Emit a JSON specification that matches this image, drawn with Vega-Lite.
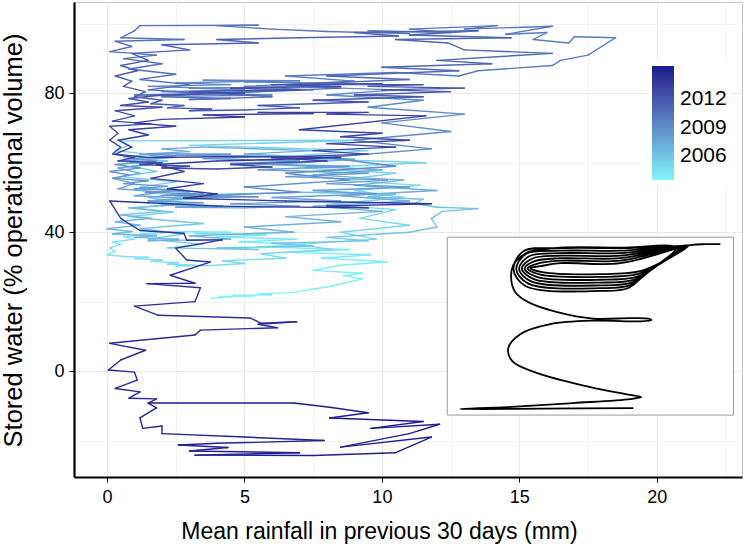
{
"$schema":"https://vega.github.io/schema/vega-lite/v6.json",
"width":668,"height":475,
"autosize":{"type":"none"},
"padding":{"left":74,"top":2,"right":3,"bottom":72},
"config":{"font":"Liberation Sans","view":{"stroke":"#c4c4c4","strokeWidth":1}},
"datasets":{
"main":[
{"t":2003.600,"x":3.8,"y":21.0},{"t":2003.625,"x":4.5,"y":21.3},{"t":2003.650,"x":4.1,"y":21.5},{"t":2003.675,"x":5.3,"y":21.6},{"t":2003.700,"x":4.6,"y":21.8},{"t":2003.725,"x":6.0,"y":22.0},{"t":2003.750,"x":5.5,"y":22.3},{"t":2003.775,"x":6.7,"y":22.6},{"t":2003.800,"x":7.4,"y":23.5},{"t":2003.825,"x":8.2,"y":24.5},{"t":2003.850,"x":9.3,"y":26.6},{"t":2003.875,"x":8.6,"y":27.5},{"t":2003.900,"x":9.3,"y":28.2},{"t":2003.925,"x":7.5,"y":29.0},{"t":2003.950,"x":8.5,"y":30.5},{"t":2003.975,"x":10.2,"y":31.5},{"t":2004.000,"x":7.8,"y":32.5},{"t":2004.025,"x":9.6,"y":33.5},{"t":2004.050,"x":6.5,"y":34.2},{"t":2004.075,"x":8.8,"y":35.0},{"t":2004.100,"x":5.5,"y":35.8},{"t":2004.125,"x":7.2,"y":36.5},{"t":2004.150,"x":4.8,"y":37.2},{"t":2004.175,"x":6.9,"y":38.0},{"t":2004.200,"x":4.0,"y":38.6},{"t":2004.225,"x":5.8,"y":39.2},{"t":2004.250,"x":3.2,"y":39.7},{"t":2004.275,"x":4.5,"y":40.0},{"t":2004.300,"x":2.5,"y":40.2},
{"t":2004.325,"x":2.0,"y":39.8},{"t":2004.350,"x":1.2,"y":39.5},{"t":2004.375,"x":1.8,"y":39.2},{"t":2004.400,"x":0.6,"y":38.8},{"t":2004.425,"x":1.0,"y":38.0},{"t":2004.450,"x":0.2,"y":37.2},{"t":2004.475,"x":0.5,"y":36.5},{"t":2004.500,"x":0.1,"y":35.5},{"t":2004.525,"x":0.3,"y":34.5},{"t":2004.550,"x":0.0,"y":33.5},{"t":2004.575,"x":0.6,"y":33.0},{"t":2004.600,"x":1.5,"y":32.8},{"t":2004.625,"x":1.0,"y":32.4},{"t":2004.650,"x":2.0,"y":32.0},{"t":2004.675,"x":1.6,"y":31.6},{"t":2004.700,"x":2.6,"y":31.2},{"t":2004.725,"x":2.2,"y":30.8},{"t":2004.750,"x":3.2,"y":30.5},{"t":2004.775,"x":2.5,"y":30.3},{"t":2004.800,"x":3.8,"y":30.4},
{"t":2004.825,"x":5.0,"y":31.0},{"t":2004.850,"x":4.2,"y":31.8},{"t":2004.875,"x":6.5,"y":32.5},{"t":2004.900,"x":5.6,"y":33.8},{"t":2004.925,"x":8.2,"y":35.0},{"t":2004.950,"x":7.0,"y":36.5},{"t":2004.975,"x":9.8,"y":38.0},{"t":2005.000,"x":8.5,"y":40.0},{"t":2005.025,"x":11.0,"y":42.0},{"t":2005.050,"x":9.2,"y":44.0},{"t":2005.075,"x":10.5,"y":46.5},{"t":2005.100,"x":8.0,"y":48.0},{"t":2005.125,"x":10.8,"y":50.0},{"t":2005.150,"x":9.0,"y":52.0},{"t":2005.175,"x":11.4,"y":53.5},{"t":2005.200,"x":8.5,"y":55.0},{"t":2005.225,"x":10.5,"y":57.0},{"t":2005.250,"x":7.2,"y":58.5},{"t":2005.275,"x":11.6,"y":60.0},{"t":2005.300,"x":6.0,"y":61.5},{"t":2005.325,"x":9.5,"y":63.5},{"t":2005.350,"x":3.0,"y":65.0},{"t":2005.375,"x":9.2,"y":66.5},{"t":2005.400,"x":0.5,"y":66.3},
{"t":2005.425,"x":0.8,"y":65.0},{"t":2005.450,"x":0.3,"y":63.5},{"t":2005.475,"x":1.5,"y":62.5},{"t":2005.500,"x":0.6,"y":61.5},{"t":2005.525,"x":2.2,"y":60.5},{"t":2005.550,"x":0.9,"y":59.0},{"t":2005.575,"x":1.8,"y":57.5},{"t":2005.600,"x":0.5,"y":56.0},{"t":2005.625,"x":2.5,"y":54.5},{"t":2005.650,"x":1.2,"y":53.0},{"t":2005.675,"x":3.0,"y":51.5},{"t":2005.700,"x":1.5,"y":50.0},{"t":2005.725,"x":2.8,"y":48.5},{"t":2005.750,"x":1.0,"y":47.0},{"t":2005.775,"x":2.4,"y":45.8},{"t":2005.800,"x":0.8,"y":44.5},{"t":2005.825,"x":2.0,"y":43.5},{"t":2005.850,"x":3.5,"y":42.5},{"t":2005.875,"x":1.2,"y":41.0},{"t":2005.900,"x":2.8,"y":39.5},{"t":2005.925,"x":1.5,"y":38.0},{"t":2005.950,"x":3.5,"y":36.5},{"t":2005.975,"x":2.2,"y":35.5},
{"t":2006.000,"x":5.5,"y":35.0},{"t":2006.025,"x":4.0,"y":35.5},{"t":2006.050,"x":7.5,"y":36.0},{"t":2006.075,"x":6.0,"y":36.8},{"t":2006.100,"x":9.5,"y":37.5},{"t":2006.125,"x":8.0,"y":38.5},{"t":2006.150,"x":11.0,"y":40.0},{"t":2006.175,"x":12.0,"y":41.5},{"t":2006.200,"x":11.8,"y":44.0},{"t":2006.225,"x":12.2,"y":46.0},{"t":2006.250,"x":13.5,"y":46.8},{"t":2006.275,"x":12.0,"y":47.2},{"t":2006.300,"x":11.2,"y":48.2},{"t":2006.325,"x":11.5,"y":49.5},{"t":2006.350,"x":9.5,"y":50.2},{"t":2006.375,"x":10.5,"y":51.0},{"t":2006.400,"x":7.0,"y":51.5},
{"t":2006.425,"x":4.5,"y":51.0},{"t":2006.450,"x":2.5,"y":50.5},{"t":2006.475,"x":3.8,"y":49.8},{"t":2006.500,"x":1.5,"y":49.0},{"t":2006.525,"x":2.8,"y":48.0},{"t":2006.550,"x":0.8,"y":47.0},{"t":2006.575,"x":2.0,"y":46.0},{"t":2006.600,"x":0.5,"y":45.0},{"t":2006.625,"x":1.6,"y":44.0},{"t":2006.650,"x":0.3,"y":43.0},{"t":2006.675,"x":1.2,"y":42.0},{"t":2006.700,"x":0.0,"y":41.0},{"t":2006.725,"x":0.9,"y":40.2},{"t":2006.750,"x":0.2,"y":39.5},{"t":2006.775,"x":1.8,"y":39.0},{"t":2006.800,"x":1.0,"y":38.5},{"t":2006.825,"x":2.6,"y":38.0},{"t":2006.850,"x":1.5,"y":37.5},
{"t":2006.875,"x":4.5,"y":38.0},{"t":2006.900,"x":3.0,"y":39.0},{"t":2006.925,"x":6.8,"y":40.0},{"t":2006.950,"x":5.0,"y":41.5},{"t":2006.975,"x":8.5,"y":43.0},{"t":2007.000,"x":6.5,"y":44.5},{"t":2007.025,"x":10.0,"y":46.0},{"t":2007.050,"x":7.5,"y":47.5},{"t":2007.075,"x":11.0,"y":49.0},{"t":2007.100,"x":8.5,"y":50.5},{"t":2007.125,"x":12.0,"y":52.0},{"t":2007.150,"x":9.0,"y":53.5},{"t":2007.175,"x":10.8,"y":55.0},{"t":2007.200,"x":7.5,"y":56.5},{"t":2007.225,"x":10.0,"y":58.0},{"t":2007.250,"x":6.0,"y":59.5},{"t":2007.275,"x":9.0,"y":61.0},{"t":2007.300,"x":5.0,"y":62.5},{"t":2007.325,"x":7.5,"y":63.5},{"t":2007.350,"x":3.5,"y":64.5},
{"t":2007.375,"x":2.0,"y":64.0},{"t":2007.400,"x":3.0,"y":63.2},{"t":2007.425,"x":1.2,"y":62.5},{"t":2007.450,"x":2.4,"y":61.5},{"t":2007.475,"x":0.6,"y":60.5},{"t":2007.500,"x":1.6,"y":59.5},{"t":2007.525,"x":0.4,"y":58.5},{"t":2007.550,"x":1.2,"y":57.0},{"t":2007.575,"x":0.2,"y":55.5},{"t":2007.600,"x":1.0,"y":54.0},{"t":2007.625,"x":0.4,"y":52.5},{"t":2007.650,"x":2.0,"y":51.5},{"t":2007.675,"x":1.0,"y":50.5},{"t":2007.700,"x":2.8,"y":49.8},{"t":2007.725,"x":1.5,"y":49.0},{"t":2007.750,"x":3.5,"y":48.5},{"t":2007.775,"x":2.0,"y":48.0},{"t":2007.800,"x":4.2,"y":47.6},{"t":2007.825,"x":2.5,"y":47.2},{"t":2007.850,"x":5.0,"y":47.0},
{"t":2007.875,"x":7.0,"y":47.5},{"t":2007.900,"x":4.5,"y":48.2},{"t":2007.925,"x":8.5,"y":49.0},{"t":2007.950,"x":6.0,"y":50.0},{"t":2007.975,"x":9.8,"y":51.0},{"t":2008.000,"x":7.5,"y":52.0},{"t":2008.025,"x":11.0,"y":53.0},{"t":2008.050,"x":8.0,"y":54.0},{"t":2008.075,"x":10.2,"y":55.0},{"t":2008.100,"x":6.5,"y":56.0},{"t":2008.125,"x":9.5,"y":57.0},{"t":2008.150,"x":5.5,"y":58.0},{"t":2008.175,"x":8.8,"y":59.0},{"t":2008.200,"x":4.5,"y":59.8},{"t":2008.225,"x":7.0,"y":60.5},{"t":2008.250,"x":3.5,"y":61.2},{"t":2008.275,"x":6.0,"y":61.8},{"t":2008.300,"x":2.5,"y":62.2},{"t":2008.325,"x":4.5,"y":62.5},{"t":2008.350,"x":1.5,"y":62.6},
{"t":2008.375,"x":2.5,"y":62.0},{"t":2008.400,"x":0.8,"y":61.2},{"t":2008.425,"x":1.8,"y":60.5},{"t":2008.450,"x":0.3,"y":59.5},{"t":2008.475,"x":1.2,"y":58.5},{"t":2008.500,"x":0.1,"y":57.5},{"t":2008.525,"x":0.8,"y":56.5},{"t":2008.550,"x":0.2,"y":55.5},{"t":2008.575,"x":1.5,"y":54.8},{"t":2008.600,"x":0.6,"y":54.0},{"t":2008.625,"x":2.2,"y":53.2},{"t":2008.650,"x":1.0,"y":52.5},{"t":2008.675,"x":2.8,"y":52.0},{"t":2008.700,"x":1.4,"y":51.5},{"t":2008.725,"x":3.5,"y":51.0},{"t":2008.750,"x":2.0,"y":50.6},{"t":2008.775,"x":4.5,"y":50.3},{"t":2008.800,"x":2.8,"y":50.0},{"t":2008.825,"x":5.5,"y":50.2},{"t":2008.850,"x":3.5,"y":50.5},
{"t":2008.875,"x":7.0,"y":51.5},{"t":2008.900,"x":5.0,"y":53.0},{"t":2008.925,"x":8.8,"y":55.0},{"t":2008.950,"x":6.5,"y":57.0},{"t":2008.975,"x":10.5,"y":59.0},{"t":2009.000,"x":8.0,"y":61.5},{"t":2009.025,"x":11.8,"y":64.0},{"t":2009.050,"x":9.0,"y":66.5},{"t":2009.075,"x":12.5,"y":69.0},{"t":2009.100,"x":10.0,"y":71.5},{"t":2009.125,"x":13.0,"y":74.0},{"t":2009.150,"x":9.5,"y":76.0},{"t":2009.175,"x":11.5,"y":78.0},{"t":2009.200,"x":8.0,"y":79.5},{"t":2009.225,"x":10.5,"y":81.0},{"t":2009.250,"x":6.5,"y":82.0},{"t":2009.275,"x":9.0,"y":82.8},{"t":2009.300,"x":5.0,"y":83.3},{"t":2009.325,"x":7.0,"y":83.6},{"t":2009.350,"x":3.5,"y":83.8},
{"t":2009.375,"x":5.5,"y":83.5},{"t":2009.400,"x":2.5,"y":83.0},{"t":2009.425,"x":4.5,"y":82.5},{"t":2009.450,"x":1.5,"y":82.0},{"t":2009.475,"x":3.5,"y":81.5},{"t":2009.500,"x":6.5,"y":81.8},{"t":2009.525,"x":3.0,"y":81.5},{"t":2009.550,"x":5.0,"y":81.0},{"t":2009.575,"x":2.0,"y":80.5},{"t":2009.600,"x":4.0,"y":80.0},{"t":2009.625,"x":1.0,"y":79.5},{"t":2009.650,"x":3.0,"y":79.2},{"t":2009.675,"x":6.0,"y":79.5},{"t":2009.700,"x":3.5,"y":80.0},{"t":2009.725,"x":7.5,"y":81.0},{"t":2009.750,"x":5.0,"y":82.0},{"t":2009.775,"x":9.0,"y":83.5},{"t":2009.800,"x":6.5,"y":85.0},
{"t":2009.825,"x":10.5,"y":86.0},{"t":2009.850,"x":12.8,"y":85.0},{"t":2009.875,"x":13.5,"y":86.5},{"t":2009.900,"x":16.2,"y":88.0},{"t":2009.925,"x":16.5,"y":89.5},{"t":2009.950,"x":17.5,"y":91.0},{"t":2009.975,"x":18.5,"y":96.0},{"t":2010.000,"x":17.0,"y":96.3},{"t":2010.025,"x":16.8,"y":94.5},{"t":2010.050,"x":15.5,"y":95.5},{"t":2010.075,"x":16.0,"y":97.5},{"t":2010.100,"x":14.5,"y":97.0},{"t":2010.125,"x":16.2,"y":99.3},{"t":2010.150,"x":13.0,"y":98.5},{"t":2010.175,"x":14.2,"y":99.5},{"t":2010.200,"x":11.0,"y":98.5},{"t":2010.225,"x":12.5,"y":97.5},{"t":2010.250,"x":9.5,"y":98.0},{"t":2010.275,"x":11.0,"y":97.2},{"t":2010.300,"x":8.0,"y":97.8},
{"t":2010.325,"x":6.0,"y":98.5},{"t":2010.350,"x":4.0,"y":99.5},{"t":2010.375,"x":5.5,"y":99.6},{"t":2010.400,"x":1.2,"y":99.5},{"t":2010.425,"x":1.0,"y":98.0},{"t":2010.450,"x":0.5,"y":96.0},{"t":2010.475,"x":2.8,"y":95.5},{"t":2010.500,"x":0.3,"y":95.0},{"t":2010.525,"x":0.9,"y":93.5},{"t":2010.550,"x":0.1,"y":92.0},{"t":2010.575,"x":1.8,"y":91.0},{"t":2010.600,"x":0.6,"y":90.0},{"t":2010.625,"x":2.0,"y":88.5},{"t":2010.650,"x":0.8,"y":87.0},{"t":2010.675,"x":2.5,"y":85.5},{"t":2010.700,"x":1.2,"y":84.0},{"t":2010.725,"x":3.0,"y":82.5},{"t":2010.750,"x":1.5,"y":81.0},{"t":2010.775,"x":3.5,"y":80.0},{"t":2010.800,"x":2.0,"y":79.0},{"t":2010.825,"x":4.5,"y":78.5},{"t":2010.850,"x":3.0,"y":78.2},
{"t":2010.875,"x":6.0,"y":79.0},{"t":2010.900,"x":4.0,"y":80.0},{"t":2010.925,"x":8.5,"y":81.5},{"t":2010.950,"x":6.5,"y":82.5},{"t":2010.975,"x":11.0,"y":84.0},{"t":2011.000,"x":8.0,"y":85.0},{"t":2011.025,"x":12.8,"y":86.5},{"t":2011.050,"x":10.0,"y":87.5},{"t":2011.075,"x":14.0,"y":88.5},{"t":2011.100,"x":12.0,"y":89.5},{"t":2011.125,"x":16.2,"y":91.5},{"t":2011.150,"x":13.0,"y":92.5},{"t":2011.175,"x":12.4,"y":94.5},{"t":2011.200,"x":10.5,"y":95.5},{"t":2011.225,"x":14.7,"y":96.0},{"t":2011.250,"x":11.0,"y":96.8},{"t":2011.275,"x":13.5,"y":98.0},{"t":2011.300,"x":9.0,"y":97.5},{"t":2011.325,"x":10.6,"y":96.5},{"t":2011.350,"x":7.0,"y":96.0},
{"t":2011.375,"x":4.0,"y":95.5},{"t":2011.400,"x":5.5,"y":94.5},{"t":2011.425,"x":2.0,"y":94.0},{"t":2011.450,"x":3.0,"y":92.5},{"t":2011.475,"x":0.9,"y":91.5},{"t":2011.500,"x":1.5,"y":89.5},{"t":2011.525,"x":0.5,"y":88.0},{"t":2011.550,"x":1.1,"y":86.5},{"t":2011.575,"x":0.3,"y":85.0},{"t":2011.600,"x":0.9,"y":83.5},{"t":2011.625,"x":0.6,"y":82.0},{"t":2011.650,"x":1.4,"y":80.5},{"t":2011.675,"x":1.0,"y":79.0},{"t":2011.700,"x":2.0,"y":78.0},{"t":2011.725,"x":1.6,"y":77.0},{"t":2011.750,"x":2.8,"y":76.5},{"t":2011.775,"x":2.2,"y":75.8},{"t":2011.800,"x":3.8,"y":75.5},{"t":2011.825,"x":3.0,"y":75.0},{"t":2011.850,"x":5.0,"y":75.2},
{"t":2011.875,"x":7.0,"y":75.8},{"t":2011.900,"x":5.5,"y":76.5},{"t":2011.925,"x":9.5,"y":77.5},{"t":2011.950,"x":7.5,"y":78.0},{"t":2011.975,"x":11.5,"y":79.0},{"t":2012.000,"x":9.0,"y":79.5},{"t":2012.025,"x":12.5,"y":80.5},{"t":2012.050,"x":10.0,"y":81.0},{"t":2012.075,"x":13.0,"y":81.5},{"t":2012.100,"x":9.5,"y":82.0},{"t":2012.125,"x":11.5,"y":82.5},{"t":2012.150,"x":7.5,"y":82.5},{"t":2012.175,"x":10.0,"y":82.8},{"t":2012.200,"x":6.0,"y":82.5},{"t":2012.225,"x":8.5,"y":82.0},{"t":2012.250,"x":4.5,"y":81.5},{"t":2012.275,"x":7.0,"y":81.0},{"t":2012.300,"x":3.0,"y":80.5},{"t":2012.325,"x":5.0,"y":80.0},{"t":2012.350,"x":2.0,"y":79.5},
{"t":2012.375,"x":0.8,"y":78.5},{"t":2012.400,"x":1.5,"y":77.5},{"t":2012.425,"x":0.5,"y":76.5},{"t":2012.450,"x":2.0,"y":76.0},{"t":2012.475,"x":0.3,"y":75.0},{"t":2012.500,"x":1.0,"y":73.5},{"t":2012.525,"x":0.2,"y":72.0},{"t":2012.550,"x":1.6,"y":71.2},{"t":2012.575,"x":0.1,"y":70.5},{"t":2012.600,"x":0.4,"y":68.5},{"t":2012.625,"x":0.1,"y":66.5},{"t":2012.650,"x":0.5,"y":64.5},{"t":2012.675,"x":0.2,"y":62.5},{"t":2012.700,"x":1.0,"y":61.5},{"t":2012.725,"x":0.4,"y":60.5},{"t":2012.750,"x":2.0,"y":60.0},{"t":2012.775,"x":1.2,"y":59.5},{"t":2012.800,"x":3.0,"y":59.0},{"t":2012.825,"x":2.0,"y":58.5},{"t":2012.850,"x":4.0,"y":58.2},
{"t":2012.875,"x":6.0,"y":58.8},{"t":2012.900,"x":4.5,"y":59.5},{"t":2012.925,"x":8.0,"y":60.5},{"t":2012.950,"x":6.0,"y":61.5},{"t":2012.975,"x":9.5,"y":62.5},{"t":2013.000,"x":7.5,"y":63.5},{"t":2013.025,"x":10.5,"y":64.5},{"t":2013.050,"x":8.0,"y":65.5},{"t":2013.075,"x":11.0,"y":66.5},{"t":2013.100,"x":8.5,"y":67.5},{"t":2013.125,"x":10.0,"y":68.5},{"t":2013.150,"x":7.0,"y":69.5},{"t":2013.175,"x":11.6,"y":73.5},{"t":2013.200,"x":8.0,"y":74.0},{"t":2013.225,"x":9.5,"y":74.5},{"t":2013.250,"x":5.5,"y":74.5},{"t":2013.275,"x":7.5,"y":74.2},{"t":2013.300,"x":3.5,"y":73.8},{"t":2013.325,"x":5.0,"y":73.2},{"t":2013.350,"x":2.0,"y":72.5},
{"t":2013.375,"x":1.0,"y":71.5},{"t":2013.400,"x":2.5,"y":70.5},{"t":2013.425,"x":0.8,"y":69.5},{"t":2013.450,"x":1.5,"y":68.0},{"t":2013.475,"x":0.4,"y":66.5},{"t":2013.500,"x":0.9,"y":64.5},{"t":2013.525,"x":0.3,"y":62.5},{"t":2013.550,"x":1.5,"y":61.5},{"t":2013.575,"x":5.0,"y":61.8},{"t":2013.600,"x":8.5,"y":61.5},{"t":2013.625,"x":4.0,"y":60.5},{"t":2013.650,"x":1.8,"y":59.5},{"t":2013.675,"x":2.8,"y":57.5},{"t":2013.700,"x":1.6,"y":55.5},{"t":2013.725,"x":3.5,"y":54.0},{"t":2013.750,"x":2.2,"y":52.5},{"t":2013.775,"x":4.0,"y":51.0},{"t":2013.800,"x":2.8,"y":49.8},{"t":2013.825,"x":6.5,"y":49.0},{"t":2013.850,"x":10.0,"y":48.5},
{"t":2013.875,"x":11.8,"y":48.2},{"t":2013.900,"x":8.0,"y":47.5},{"t":2013.925,"x":9.5,"y":47.0},{"t":2013.950,"x":4.0,"y":47.5},{"t":2013.975,"x":1.5,"y":48.5},{"t":2014.000,"x":0.1,"y":49.0},{"t":2014.025,"x":0.5,"y":44.0},{"t":2014.050,"x":1.2,"y":40.5},{"t":2014.075,"x":2.8,"y":39.7},{"t":2014.100,"x":2.9,"y":37.7},{"t":2014.125,"x":4.2,"y":37.8},{"t":2014.150,"x":2.5,"y":35.4},{"t":2014.175,"x":2.9,"y":32.0},{"t":2014.200,"x":3.75,"y":31.4},{"t":2014.225,"x":2.3,"y":27.6},{"t":2014.250,"x":3.2,"y":25.3},{"t":2014.275,"x":1.45,"y":25.2},{"t":2014.300,"x":3.4,"y":24.0},{"t":2014.325,"x":3.2,"y":20.0},{"t":2014.350,"x":1.0,"y":18.7},{"t":2014.375,"x":1.85,"y":16.1},{"t":2014.400,"x":5.2,"y":15.3},{"t":2014.425,"x":5.6,"y":13.8},{"t":2014.450,"x":6.9,"y":14.2},{"t":2014.475,"x":5.5,"y":13.5},{"t":2014.500,"x":6.2,"y":12.5},{"t":2014.525,"x":3.4,"y":11.8},{"t":2014.550,"x":3.2,"y":10.4},{"t":2014.575,"x":0.1,"y":8.0},{"t":2014.600,"x":1.4,"y":6.0},{"t":2014.625,"x":0.5,"y":3.2},{"t":2014.650,"x":0.05,"y":0.3},{"t":2014.675,"x":1.0,"y":-0.3},{"t":2014.700,"x":1.1,"y":-2.6},{"t":2014.725,"x":0.3,"y":-5.0},{"t":2014.750,"x":1.2,"y":-6.0},{"t":2014.775,"x":0.8,"y":-7.8},{"t":2014.800,"x":1.8,"y":-8.0},{"t":2014.825,"x":1.5,"y":-9.2},{"t":2014.850,"x":1.8,"y":-10.6},{"t":2014.875,"x":1.2,"y":-13.5},{"t":2014.900,"x":1.3,"y":-16.5},{"t":2014.925,"x":2.0,"y":-15.8},{"t":2014.950,"x":2.0,"y":-18.0},{"t":2014.975,"x":5.0,"y":-19.0},{"t":2015.000,"x":7.9,"y":-20.0},{"t":2015.025,"x":4.0,"y":-20.8},{"t":2015.050,"x":2.6,"y":-21.3},{"t":2015.075,"x":4.4,"y":-22.0},{"t":2015.100,"x":3.0,"y":-23.0},{"t":2015.125,"x":7.0,"y":-23.5},{"t":2015.150,"x":3.2,"y":-24.2},{"t":2015.175,"x":7.5,"y":-24.3},{"t":2015.200,"x":10.5,"y":-23.5},{"t":2015.225,"x":11.8,"y":-19.0},{"t":2015.250,"x":8.5,"y":-21.9},{"t":2015.275,"x":11.0,"y":-18.0},{"t":2015.300,"x":12.1,"y":-15.3},{"t":2015.325,"x":9.6,"y":-16.5},{"t":2015.350,"x":11.5,"y":-14.5},{"t":2015.375,"x":8.1,"y":-13.5},{"t":2015.400,"x":9.5,"y":-12.0},{"t":2015.425,"x":8.1,"y":-10.4},{"t":2015.450,"x":6.8,"y":-9.2},{"t":2015.475,"x":1.5,"y":-9.2}
],
"box":[{"x":12.38,"x2":22.79,"y":-12.66,"y2":38.56}],
"inset":[
{"i":0,"x":22.315,"y":36.547},{"i":1,"x":21.769,"y":36.547},
{"i":2,"x":21.223,"y":36.259},{"i":3,"x":18.675,"y":31.079},{"i":4,"x":16.491,"y":31.079},{"i":5,"x":15.763,"y":30.216},{"i":6,"x":15.399,"y":29.640},{"i":7,"x":15.836,"y":28.489},{"i":8,"x":17.947,"y":27.914},{"i":9,"x":19.403,"y":28.777},{"i":10,"x":20.313,"y":31.942},
{"i":11,"x":21.150,"y":36.115},{"i":12,"x":18.675,"y":31.799},{"i":13,"x":16.491,"y":31.799},{"i":14,"x":15.661,"y":30.935},{"i":15,"x":15.297,"y":29.597},{"i":16,"x":15.733,"y":27.827},{"i":17,"x":17.947,"y":27.108},{"i":18,"x":19.330,"y":27.971},{"i":19,"x":20.204,"y":31.367},
{"i":20,"x":21.078,"y":35.971},{"i":21,"x":18.675,"y":32.518},{"i":22,"x":16.491,"y":32.518},{"i":23,"x":15.559,"y":31.655},{"i":24,"x":15.195,"y":29.554},{"i":25,"x":15.632,"y":27.165},{"i":26,"x":17.947,"y":26.302},{"i":27,"x":19.258,"y":27.165},{"i":28,"x":20.095,"y":30.791},
{"i":29,"x":21.005,"y":35.827},{"i":30,"x":18.675,"y":33.237},{"i":31,"x":16.491,"y":33.237},{"i":32,"x":15.457,"y":32.374},{"i":33,"x":15.093,"y":29.511},{"i":34,"x":15.530,"y":26.504},{"i":35,"x":17.947,"y":25.496},{"i":36,"x":19.185,"y":26.360},{"i":37,"x":19.986,"y":30.216},
{"i":38,"x":20.932,"y":35.683},{"i":39,"x":18.675,"y":33.957},{"i":40,"x":16.491,"y":33.957},{"i":41,"x":15.355,"y":33.094},{"i":42,"x":14.991,"y":29.468},{"i":43,"x":15.428,"y":25.842},{"i":44,"x":17.947,"y":24.691},{"i":45,"x":19.112,"y":25.554},{"i":46,"x":19.876,"y":29.640},
{"i":47,"x":20.859,"y":35.540},{"i":48,"x":18.675,"y":34.676},{"i":49,"x":16.491,"y":34.676},{"i":50,"x":15.253,"y":33.813},{"i":51,"x":14.889,"y":29.424},{"i":52,"x":15.326,"y":25.180},{"i":53,"x":17.947,"y":23.885},{"i":54,"x":19.039,"y":24.748},{"i":55,"x":19.767,"y":29.065},
{"i":56,"x":20.786,"y":35.396},{"i":57,"x":18.675,"y":35.396},{"i":58,"x":16.491,"y":35.396},{"i":59,"x":15.151,"y":34.532},{"i":60,"x":14.787,"y":29.381},{"i":61,"x":15.224,"y":24.518},{"i":62,"x":17.947,"y":23.079},{"i":63,"x":18.966,"y":23.942},{"i":64,"x":19.658,"y":28.489},
{"i":65,"x":20.700,"y":35.500},{"i":66,"x":18.675,"y":35.540},{"i":67,"x":16.491,"y":35.540},{"i":68,"x":15.326,"y":34.245},{"i":69,"x":14.780,"y":30.504},{"i":70,"x":14.707,"y":26.187},{"i":71,"x":14.853,"y":22.734},{"i":72,"x":15.326,"y":19.856},{"i":73,"x":16.382,"y":16.978},{"i":74,"x":17.692,"y":15.108},{"i":75,"x":19.039,"y":15.252},{"i":76,"x":19.694,"y":15.108},{"i":77,"x":19.803,"y":14.676},{"i":78,"x":19.403,"y":14.331},{"i":79,"x":17.692,"y":14.532},{"i":80,"x":16.127,"y":13.525},{"i":81,"x":15.035,"y":10.647},{"i":82,"x":14.598,"y":6.619},{"i":83,"x":14.743,"y":2.878},{"i":84,"x":15.654,"y":-0.576},{"i":85,"x":17.583,"y":-4.604},{"i":86,"x":18.857,"y":-6.619},{"i":87,"x":19.439,"y":-7.482},{"i":88,"x":19.039,"y":-8.058},{"i":89,"x":16.964,"y":-9.209},{"i":90,"x":14.561,"y":-10.360},{"i":91,"x":12.851,"y":-10.935},{"i":92,"x":15.763,"y":-10.791},{"i":93,"x":19.148,"y":-10.647}
]
},
"encoding":{
"x":{"field":"x","type":"quantitative","title":"Mean rainfall in previous 30 days (mm)",
 "scale":{"domain":[-1.2,23.1],"nice":false,"zero":false},
 "axis":{"values":[0,2.5,5,7.5,10,12.5,15,17.5,20,22.5],
  "labelExpr":"datum.value % 5 == 0 ? format(datum.value, 'd') : ''",
  "tickOpacity":{"condition":{"test":"datum.value % 5 != 0","value":0},"value":1},
  "gridColor":{"condition":{"test":"datum.value % 5 != 0","value":"#f3f3f3"},"value":"#e8e8e8"},
  "grid":true,"gridWidth":1,"domainColor":"black","domainWidth":2.2,"tickColor":"black","tickSize":5,"tickWidth":1,
  "labelFontSize":18,"labelColor":"black","labelPadding":6,"labelFont":"Liberation Sans",
  "titleFontSize":23,"titleFontWeight":"normal","titleColor":"black","titleFont":"Liberation Sans","titleX":305,"titleY":61,"titleBaseline":"alphabetic"}},
"y":{"field":"y","type":"quantitative","title":"Stored water (% operational volume)",
 "scale":{"domain":[-30.5,106.3],"nice":false,"zero":false},
 "axis":{"values":[-20,0,20,40,60,80,100],
  "labelExpr":"datum.value % 40 == 0 ? format(datum.value, 'd') : ''",
  "tickOpacity":{"condition":{"test":"datum.value % 40 != 0","value":0},"value":1},
  "gridColor":{"condition":{"test":"datum.value % 40 != 0","value":"#f3f3f3"},"value":"#e8e8e8"},
  "grid":true,"gridWidth":1,"domainColor":"black","domainWidth":2.2,"tickColor":"black","tickSize":5,"tickWidth":1,
  "labelFontSize":18,"labelColor":"black","labelPadding":5,"labelFont":"Liberation Sans",
  "titleFontSize":25.5,"titleFontWeight":"normal","titleColor":"black","titleFont":"Liberation Sans","titleX":-53,"titleY":238,"titleAngle":-90,"titleBaseline":"alphabetic"}}
},
"layer":[
{"data":{"name":"main"},
 "transform":[{"window":[{"op":"lead","field":"x","as":"xn"},{"op":"lead","field":"y","as":"yn"}],"sort":[{"field":"t","order":"ascending"}]},{"filter":"isValid(datum.xn)"}],
 "mark":{"type":"rule","strokeWidth":1.4,"strokeCap":"round"},
 "encoding":{"x2":{"field":"xn"},"y2":{"field":"yn"},
  "color":{"field":"t","type":"quantitative","scale":{"domain":[2003.5,2015.5],"range":["#7ff6fc","#1a1a8c"],"interpolate":"lab"},
   "legend":{"orient":"none","legendX":573,"legendY":59,"direction":"vertical","gradientLength":114,"gradientThickness":22,"values":[2006,2009,2012],"format":"d","labelFontSize":21,"labelColor":"black","labelFont":"Liberation Sans","labelOffset":6,"title":null,"gradientStrokeWidth":0,"fillColor":"white","padding":5}}}},
{"data":{"name":"box"},
 "mark":{"type":"rect","fill":"white","stroke":"#9a9a9a","strokeWidth":1},
 "encoding":{"x2":{"field":"x2"},"y2":{"field":"y2"}}},
{"data":{"name":"inset"},
 "mark":{"type":"line","color":"black","strokeWidth":1.8,"interpolate":"catmull-rom"},
 "encoding":{"order":{"field":"i","type":"quantitative"}}}
]
}
